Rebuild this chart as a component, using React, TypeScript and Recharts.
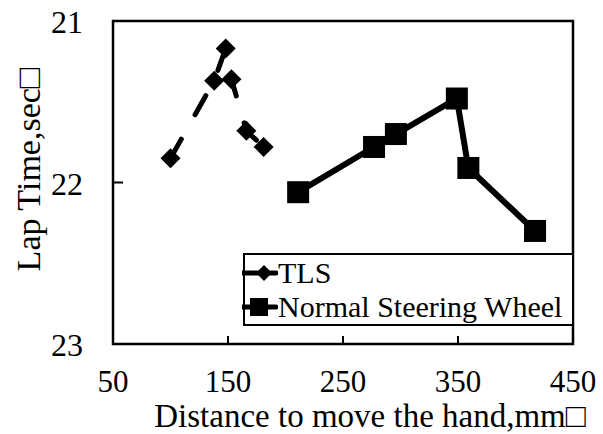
import React from "react"
import { ComposedChart, Line, XAxis, YAxis, ReferenceArea, Legend } from "recharts"

// distance to move the hand (mm) / lap time (sec)
const tlsX = [100, 138, 148, 153, 166, 181]
const tlsY = [21.85, 21.37, 21.17, 21.36, 21.68, 21.78]
const wheelX = [211, 277, 296, 349, 359, 417]
const wheelY = [22.06, 21.78, 21.7, 21.48, 21.91, 22.3]
const xTicks = [50, 150, 250, 350, 450]
const yTicks = [21, 22, 23]
const seriesNames = ["TLS", "Normal Steering Wheel"]

const tlsData = tlsX.map((x, i) => ({ x, y: tlsY[i] }))
const wheelData = wheelX.map((x, i) => ({ x, y: wheelY[i] }))

const FONT = "'Liberation Serif', 'Times New Roman', serif"

const Diamond = ({ cx, cy, r = 10 }: any) => (
  <polygon points={`${cx},${cy - r} ${cx + r},${cy} ${cx},${cy + r} ${cx - r},${cy}`} fill="#000" />
)

const Square = ({ cx, cy, s = 22 }: any) => (
  <rect x={cx - s / 2} y={cy - s / 2} width={s} height={s} fill="#000" />
)

const XTick = (props: any) => {
  const { x, y, payload } = props
  const inner = payload.value !== xTicks[0] && payload.value !== xTicks[xTicks.length - 1]
  return (
    <g>
      {inner && <line x1={x} x2={x} y1={y} y2={y - 8} stroke="#000" strokeWidth={2} />}
      <text x={x} y={y + 48} textAnchor="middle" fontSize={31} fontFamily={FONT} fill="#000">
        {payload.value}
      </text>
    </g>
  )
}

const YTick = (props: any) => {
  const { x, y, payload } = props
  const inner = payload.value !== yTicks[0] && payload.value !== yTicks[yTicks.length - 1]
  return (
    <g>
      {inner && <line x1={x} x2={x + 10} y1={y} y2={y} stroke="#000" strokeWidth={2} />}
      <text x={x - 30} y={y + 12} textAnchor="end" fontSize={32} fontFamily={FONT} fill="#000">
        {payload.value}
      </text>
    </g>
  )
}

const LegendBox = () => (
  <div
    style={{
      boxSizing: "border-box",
      width: "100%",
      height: "100%",
      border: "2.5px solid #000",
      background: "#fff",
      fontFamily: FONT,
      fontSize: 30,
      lineHeight: "34px",
      paddingTop: 1,
    }}
  >
    {seriesNames.map((name, i) => (
      <div key={name} style={{ display: "flex", alignItems: "center", whiteSpace: "nowrap" }}>
        <svg width={36} height={30} style={{ marginLeft: -3 }}>
          <line x1={0} x2={34} y1={15} y2={15} stroke="#000" strokeWidth={5} strokeLinecap="round" />
          {i === 0 ? <Diamond cx={22} cy={15} r={8} /> : <Square cx={17} cy={15} s={18} />}
        </svg>
        <span>{name}</span>
      </div>
    ))}
  </div>
)

export default function App() {
  return (
    <div style={{ position: "absolute", left: 0, top: 0, background: "#fff" }}>
      <ComposedChart width={603} height={434} margin={{ top: 21, right: 30, bottom: 0, left: 0 }}>
        <XAxis
          type="number"
          dataKey="x"
          domain={[50, 450]}
          ticks={xTicks}
          interval={0}
          height={90}
          axisLine={false}
          tickLine={false}
          tickSize={0}
          tickMargin={0}
          tick={<XTick />}
          label={{
            content: ({ viewBox }: any) => (
              <text
                x={viewBox.x + viewBox.width / 2 + 27}
                y={viewBox.y + 83}
                textAnchor="middle"
                fontSize={33}
                fontFamily={FONT}
                fill="#000"
              >
                Distance to move the hand,mm□
              </text>
            ),
          }}
        />
        <YAxis
          type="number"
          dataKey="y"
          domain={[21, 23]}
          reversed
          ticks={yTicks}
          interval={0}
          width={113}
          axisLine={false}
          tickLine={false}
          tickSize={0}
          tickMargin={0}
          tick={<YTick />}
          label={{
            content: ({ viewBox }: any) => {
              const cx = viewBox.x + 28
              const cy = viewBox.y + viewBox.height / 2 - 13
              return (
                <text
                  x={cx}
                  y={cy}
                  transform={`rotate(-90 ${cx} ${cy})`}
                  textAnchor="middle"
                  dominantBaseline="central"
                  fontSize={34}
                  fontFamily={FONT}
                  fill="#000"
                >
                  Lap Time,sec□
                </text>
              )
            },
          }}
        />
        <ReferenceArea x1={50} x2={450} y1={21} y2={23} fill="none" stroke="#000" strokeWidth={2.5} />
        <Line
          data={tlsData}
          dataKey="y"
          name={seriesNames[0]}
          stroke="#000"
          strokeWidth={5}
          strokeDasharray="22 28"
          strokeLinecap="round"
          dot={(p: any) => <Diamond key={p.index} cx={p.cx} cy={p.cy} />}
          activeDot={false}
          isAnimationActive={false}
        />
        <Line
          data={wheelData}
          dataKey="y"
          name={seriesNames[1]}
          stroke="#000"
          strokeWidth={6}
          dot={(p: any) => <Square key={p.index} cx={p.cx} cy={p.cy} />}
          activeDot={false}
          isAnimationActive={false}
        />
        <Legend
          layout="vertical"
          align="center"
          verticalAlign="middle"
          content={<LegendBox />}
          wrapperStyle={{ left: 243, top: 253, width: 331, height: 73 }}
        />
      </ComposedChart>
    </div>
  )
}
